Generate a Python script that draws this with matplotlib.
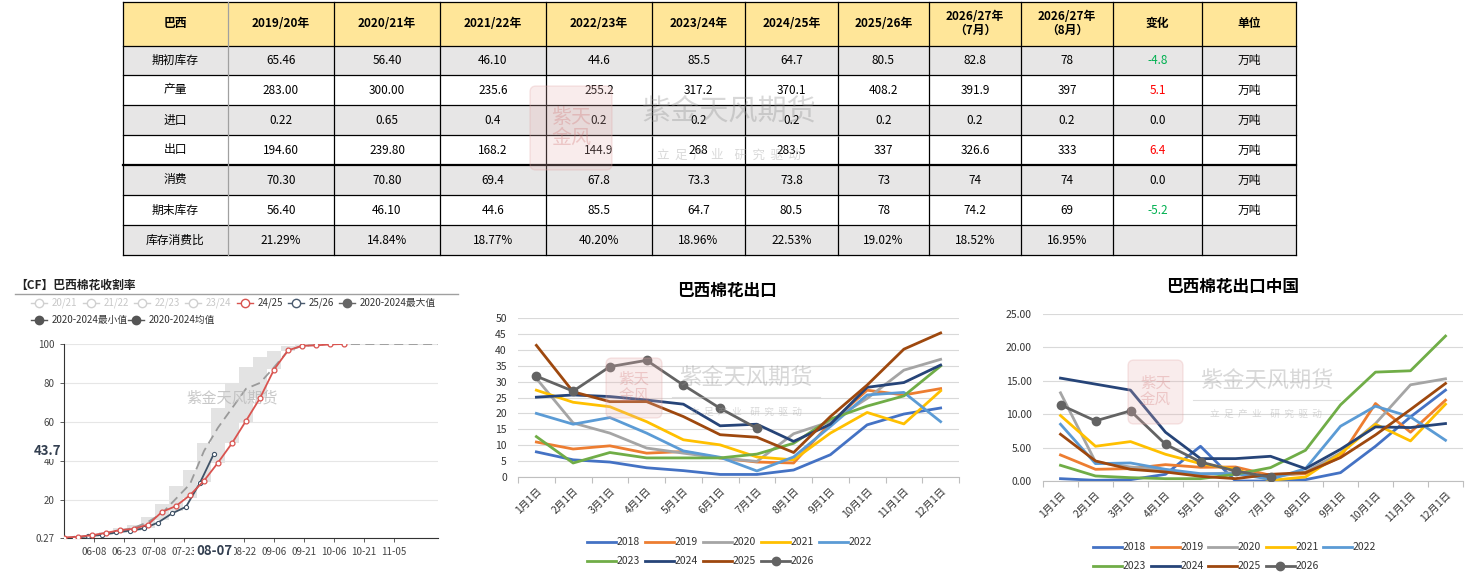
import matplotlib
matplotlib.use('Agg')
import matplotlib.pyplot as plt
from matplotlib.patches import Rectangle, FancyBboxPatch
from matplotlib.lines import Line2D

plt.rcParams['font.family'] = ['Noto Sans CJK SC', 'DejaVu Sans']

W, H = 1478, 583

# ---------------- table data ----------------
table_header = ["巴西", "2019/20年", "2020/21年", "2021/22年", "2022/23年", "2023/24年",
                "2024/25年", "2025/26年", "2026/27年\n（7月）", "2026/27年\n（8月）", "变化", "单位"]
row_names = ["期初库存", "产量", "进口", "出口", "消费", "期末库存", "库存消费比"]
row_values = [
    ["65.46", "56.40", "46.10", "44.6", "85.5", "64.7", "80.5", "82.8", "78"],
    ["283.00", "300.00", "235.6", "255.2", "317.2", "370.1", "408.2", "391.9", "397"],
    ["0.22", "0.65", "0.4", "0.2", "0.2", "0.2", "0.2", "0.2", "0.2"],
    ["194.60", "239.80", "168.2", "144.9", "268", "283.5", "337", "326.6", "333"],
    ["70.30", "70.80", "69.4", "67.8", "73.3", "73.8", "73", "74", "74"],
    ["56.40", "46.10", "44.6", "85.5", "64.7", "80.5", "78", "74.2", "69"],
    ["21.29%", "14.84%", "18.77%", "40.20%", "18.96%", "22.53%", "19.02%", "18.52%", "16.95%"],
]
row_change = ["-4.8", "5.1", "0.0", "6.4", "0.0", "-5.2", ""]
row_unit = ["万吨", "万吨", "万吨", "万吨", "万吨", "万吨", ""]

# ---------------- harvest (left chart) ----------------
harvest_tick_days = [15, 30, 45, 60, 90, 105, 120, 135, 150, 165]
harvest_tick_labels = ["06-08", "06-23", "07-08", "07-23", "08-22", "09-06", "09-21", "10-06", "10-21", "11-05"]
harvest_cur_day = 75
harvest_cur_label = "08-07"
days_2425 = [0, 7, 14, 21, 28, 35, 42, 49, 56, 63, 70, 77, 84, 91, 98, 105, 112, 119, 126, 133, 140]
rate_2425 = [0.5, 0.9, 1.7, 2.9, 4.3, 5.0, 7.2, 13.7, 16.7, 22.3, 29.7, 39.0, 49.0, 60.5, 72.2, 86.8,
             96.7, 99.1, 99.3, 99.8, 100.0]
days_2526 = [0, 5, 12, 19, 26, 33, 40, 47, 54, 61, 68, 75]
rate_2526 = [0.27, 0.5, 1.2, 1.9, 3.1, 4.1, 5.2, 8.2, 12.9, 16.3, 28.7, 43.7]
days_band = [0, 7, 14, 21, 28, 35, 42, 49, 56, 63, 70, 77, 84, 91, 98, 105, 112, 119, 126, 133,
             140, 147, 154, 161, 168, 175, 182, 189]
rate_max = [0.5, 1.0, 2.0, 3.5, 5.5, 7.0, 11.0, 18.0, 27.0, 35.0, 49.0, 67.0, 80.0, 88.0, 93.5, 96.5,
            99.0, 100, 100, 100, 100, 100, 100, 100, 100, 100, 100, 100]
rate_min = [0.2, 0.5, 1.0, 2.0, 3.0, 4.0, 5.5, 9.5, 14.0, 21.0, 29.0, 39.0, 49.0, 60.0, 72.0, 87.0,
            96.5, 98.5, 99.0, 100, 100, 100, 100, 100, 100, 100, 100, 100]
rate_mean = [0.3, 0.7, 1.5, 2.7, 4.0, 5.5, 8.5, 13.0, 20.5, 28.0, 45.0, 57.0, 67.0, 77.0, 80.0, 88.0,
             96.5, 99.0, 99.5, 100, 100, 100, 100, 100, 100, 100, 100, 100]

# ---------------- exports ----------------
months = ["1月1日", "2月1日", "3月1日", "4月1日", "5月1日", "6月1日", "7月1日", "8月1日",
          "9月1日", "10月1日", "11月1日", "12月1日"]
years = ["2018", "2019", "2020", "2021", "2022", "2023", "2024", "2025", "2026"]
year_colors = ["#4472C4", "#ED7D31", "#A5A5A5", "#FFC000", "#5B9BD5", "#70AD47", "#264478", "#9E480E", "#636363"]

export_total = {
    "2018": [7.9, 5.4, 4.7, 2.9, 2.0, 0.8, 0.8, 2.2, 7.0, 16.4, 19.8, 21.7],
    "2019": [11.0, 8.8, 9.8, 7.5, 8.0, 6.0, 4.7, 4.4, 17.0, 27.3, 25.8, 27.8],
    "2020": [31.0, 17.0, 13.8, 9.1, 7.5, 6.0, 4.9, 13.6, 17.4, 24.7, 33.6, 37.0],
    "2021": [27.3, 23.5, 22.1, 17.4, 11.7, 10.1, 6.3, 5.4, 13.8, 20.3, 16.7, 27.1],
    "2022": [20.0, 16.6, 18.7, 13.8, 8.2, 6.2, 1.9, 6.3, 15.9, 25.8, 26.6, 17.4],
    "2023": [12.7, 4.4, 7.7, 6.0, 6.0, 6.0, 7.2, 10.6, 18.2, 22.3, 25.5, 34.9],
    "2024": [25.1, 25.8, 25.3, 24.2, 22.9, 16.1, 16.6, 11.2, 16.6, 28.2, 29.7, 35.2],
    "2025": [41.4, 26.8, 23.7, 23.7, 19.0, 13.3, 12.5, 7.7, 19.0, 28.9, 40.2, 45.3],
    "2026": [31.7, 27.0, 34.7, 36.7, 28.9, 21.6, 15.3],
}
export_china = {
    "2018": [0.35, 0.1, 0.2, 1.0, 5.2, 0.0, 0.0, 0.2, 1.25, 5.2, 9.6, 13.6],
    "2019": [3.9, 1.75, 1.85, 2.45, 2.05, 2.1, 0.85, 1.1, 3.6, 11.6, 7.3, 12.1],
    "2020": [13.2, 2.85, 2.1, 1.6, 1.0, 1.25, 0.5, 1.35, 4.2, 8.6, 14.4, 15.3],
    "2021": [9.8, 5.2, 5.9, 4.0, 2.6, 1.75, 0.1, 0.6, 4.1, 8.5, 6.0, 11.5],
    "2022": [8.5, 2.6, 2.7, 1.75, 1.1, 1.1, 0.25, 1.85, 8.2, 11.2, 9.6, 6.1],
    "2023": [2.35, 0.75, 0.5, 0.35, 0.35, 1.0, 2.0, 4.6, 11.4, 16.3, 16.5, 21.7],
    "2024": [15.4, 14.5, 13.6, 7.3, 3.35, 3.35, 3.7, 1.85, 4.75, 8.1, 8.0, 8.6],
    "2025": [7.0, 3.0, 1.75, 1.35, 0.7, 0.35, 1.0, 1.25, 3.5, 6.9, 10.7, 14.6],
    "2026": [11.4, 9.0, 10.5, 5.5, 2.85, 1.5, 0.6],
}


def rect(x0, y0, x1, y1):
    return [x0 / W, 1 - y1 / H, (x1 - x0) / W, (y1 - y0) / H]


fig = plt.figure(figsize=(W / 100, H / 100), dpi=100)
fig.patch.set_facecolor('white')

ov = fig.add_axes([0, 0, 1, 1])
ov.set_xlim(0, W)
ov.set_ylim(H, 0)
ov.axis('off')

# ---------------- table ----------------
col_edges = [123, 228, 334, 440, 546, 652, 745, 838, 929, 1021, 1113, 1202, 1296]
row_edges = [1.5, 46, 75, 105, 135, 165, 195, 225, 255]
row_bg = ["#E7E6E6", "#FFFFFF", "#E7E6E6", "#FFFFFF", "#E7E6E6", "#FFFFFF", "#E7E6E6"]

ov.add_patch(Rectangle((col_edges[0], row_edges[0]), col_edges[-1] - col_edges[0],
                       row_edges[1] - row_edges[0], facecolor="#FFE699", edgecolor='none'))
for r in range(len(row_names)):
    ov.add_patch(Rectangle((col_edges[0], row_edges[r + 1]), col_edges[-1] - col_edges[0],
                           row_edges[r + 2] - row_edges[r + 1], facecolor=row_bg[r], edgecolor='none'))

for c, lab in enumerate(table_header):
    cx = (col_edges[c] + col_edges[c + 1]) / 2
    cy = (row_edges[0] + row_edges[1]) / 2
    ov.text(cx, cy, lab, ha='center', va='center', fontsize=8.5, fontweight='bold',
            color='black', linespacing=1.1)

for r, name in enumerate(row_names):
    cy = (row_edges[r + 1] + row_edges[r + 2]) / 2
    cells = [name] + row_values[r] + [row_change[r], row_unit[r]]
    for c, txt in enumerate(cells):
        cx = (col_edges[c] + col_edges[c + 1]) / 2
        color = 'black'
        if c == 10 and txt:
            v = float(txt)
            color = '#00B050' if v < 0 else ('#FF0000' if v > 0 else 'black')
        ov.text(cx, cy, txt, ha='center', va='center', fontsize=8.5, color=color)

# grid lines
for i, y in enumerate(row_edges):
    lw = 1.6 if i == 5 else 0.9
    ov.plot([col_edges[0], col_edges[-1]], [y, y], color='black', lw=lw)
for j, x in enumerate(col_edges):
    col = '#A0A0A0' if j == 1 else 'black'
    ov.plot([x, x], [row_edges[0], row_edges[-1]], color=col, lw=0.9)

# ---------------- left chart: harvest ----------------
ov.text(15, 285, "【CF】巴西棉花收割率", ha='left', va='center', fontsize=8.5, fontweight='bold', color='#222222')
ov.plot([15, 458], [294, 294], color='#A0A0A0', lw=1.0)

leg1 = [("20/21", 39, 303, '#D0D0D0', 'open'), ("21/22", 91, 303, '#D0D0D0', 'open'),
        ("22/23", 142, 303, '#D0D0D0', 'open'), ("23/24", 193, 303, '#D0D0D0', 'open'),
        ("24/25", 245, 303, '#D9534F', 'open'), ("25/26", 296, 303, '#4A5A6E', 'open'),
        ("2020-2024最大值", 347, 303, '#666666', 'fill'),
        ("2020-2024最小值", 39, 320, '#555555', 'fill'), ("2020-2024均值", 136, 320, '#555555', 'fill')]
for lab, x, y, colr, kind in leg1:
    ov.plot([x - 8, x + 8], [y, y], color=colr, lw=1.0)
    if kind == 'open':
        ov.plot([x], [y], marker='o', ms=6, mfc='white', mec=colr, mew=1.0)
    else:
        ov.plot([x], [y], marker='o', ms=6, mfc=colr, mec=colr)
    tcol = '#C8C8C8' if colr == '#D0D0D0' else '#333333'
    ov.text(x + 13, y, lab, ha='left', va='center', fontsize=7, color=tcol)

axh = fig.add_axes(rect(64, 344, 438, 538))
axh.set_xlim(0, 187)
axh.set_ylim(0.27, 100)
axh.fill_between(days_band, rate_min, rate_max, step='mid', color='#E3E3E3', lw=0, zorder=1)
axh.plot(days_band, rate_mean, color='#9A9A9A', lw=1.3, ls=(0, (5, 3)), zorder=2)
axh.plot(days_2425, rate_2425, color='#D9534F', lw=1.3, marker='o', ms=3.5, mfc='white',
         mec='#D9534F', mew=0.9, zorder=4)
axh.plot(days_2526, rate_2526, color='#3F5266', lw=1.3, marker='o', ms=3, mfc='white',
         mec='#3F5266', mew=0.8, zorder=3)
axh.set_yticks([0.27, 20, 40, 60, 80, 100])
axh.set_yticklabels(["0.27", "20", "40", "60", "80", "100"])
axh.set_xticks(harvest_tick_days)
axh.set_xticklabels(harvest_tick_labels)
axh.tick_params(axis='both', labelsize=7, colors='#444444', length=3, width=0.6)
axh.grid(axis='y', color='#E6E6E6', lw=0.8)
axh.set_axisbelow(True)
for s in ['top', 'right']:
    axh.spines[s].set_visible(False)
axh.spines['left'].set_color('#333333')
axh.spines['bottom'].set_color('#333333')
axh.text(harvest_cur_day, -0.03, harvest_cur_label, transform=axh.get_xaxis_transform(),
         ha='center', va='top', fontsize=9.5, fontweight='bold', color='#333F50',
         bbox=dict(facecolor='white', edgecolor='none', pad=1.5))
axh.text(-0.008, rate_2526[-1] + 1.5, f"{rate_2526[-1]:.1f}", transform=axh.get_yaxis_transform(),
         ha='right', va='center', fontsize=9.5, fontweight='bold', color='#333F50',
         bbox=dict(facecolor='white', edgecolor='none', pad=1.0))
axh.text(0.45, 0.72, "紫金天风期货", transform=axh.transAxes, ha='center', va='center',
         fontsize=11, color='#BBBBBB', alpha=0.8)


# ---------------- export charts ----------------
def export_chart(rect_px, data, ymax, ystep, yfmt, title, title_xy, leg_x0, leg_y, leg_dx):
    ax = fig.add_axes(rect(*rect_px))
    xs = list(range(12))
    for yr, colr in zip(years, year_colors):
        vals = data[yr]
        if yr == "2026":
            ax.plot(xs[:len(vals)], vals, color=colr, lw=2.0, marker='o', ms=6, zorder=5)
        else:
            ax.plot(xs[:len(vals)], vals, color=colr, lw=2.0, zorder=3)
    ax.set_xlim(-0.5, 11.5)
    ax.set_ylim(0, ymax)
    yt = [i * ystep for i in range(int(round(ymax / ystep)) + 1)]
    ax.set_yticks(yt)
    ax.set_yticklabels([yfmt.format(v) for v in yt])
    ax.set_xticks(xs)
    ax.set_xticklabels(months, rotation=45, ha='right', va='top', rotation_mode='anchor')
    ax.set_xticks([i - 0.5 for i in range(13)], minor=True)
    ax.tick_params(axis='x', which='major', length=0, labelsize=7.5, colors='#333333', pad=6)
    ax.tick_params(axis='x', which='minor', length=4, color='#BFBFBF', width=0.8)
    ax.tick_params(axis='y', length=0, labelsize=7.5, colors='#333333', pad=8)
    ax.grid(axis='y', color='#D9D9D9', lw=0.8)
    ax.set_axisbelow(True)
    for s in ['top', 'right', 'left']:
        ax.spines[s].set_visible(False)
    ax.spines['bottom'].set_color('#BFBFBF')
    ov.text(title_xy[0], title_xy[1], title, ha='center', va='center', fontsize=12,
            fontweight='bold', color='black')
    for i, (yr, colr) in enumerate(zip(years, year_colors)):
        row = i // 5
        col = i % 5
        x = leg_x0 + col * leg_dx
        y = leg_y + row * 19
        ov.plot([x, x + 29], [y, y], color=colr, lw=2.0)
        if yr == "2026":
            ov.plot([x + 14.5], [y], marker='o', ms=6, color=colr)
        ov.text(x + 30, y, yr, ha='left', va='center', fontsize=7.5, color='#333333')
    return ax


export_chart((518, 318, 959, 477), export_total, 50, 5, "{:.0f}", "巴西棉花出口", (727, 291),
             587, 542, 58)
export_chart((1043, 314, 1463, 481), export_china, 25, 5, "{:.2f}", "巴西棉花出口中国", (1233, 287),
             1093, 547, 57.5)

# ---------------- watermarks ----------------
wm = fig.add_axes([0, 0, 1, 1], zorder=20)
wm.set_xlim(0, W)
wm.set_ylim(H, 0)
wm.axis('off')
wm.patch.set_alpha(0)


def logo(x0, y0, x1, y1, big, small, tx0, tx1, ty, sy):
    wm.add_patch(FancyBboxPatch((x0, y0), x1 - x0, y1 - y0, boxstyle="round,pad=0,rounding_size=6",
                                facecolor='#E8B4B4', edgecolor='#E0A0A0', alpha=0.25, lw=1))
    wm.text((x0 + x1) / 2, (y0 + y1) / 2, "紫天\n金风", ha='center', va='center', fontsize=small * 1.6,
            color='#D07070', alpha=0.3, linespacing=1.0)
    wm.text((tx0 + tx1) / 2, ty, "紫金天风期货", ha='center', va='center', fontsize=big,
            color='#909090', alpha=0.35)
    wm.plot([tx0, tx1], [(ty + sy) / 2 + 2, (ty + sy) / 2 + 2], color='#C0C0C0', lw=0.8, alpha=0.5)
    wm.text((tx0 + tx1) / 2, sy, "立  足  产  业    研  究  驱  动", ha='center', va='center',
            fontsize=small, color='#A0A0A0', alpha=0.4)


logo(530, 86, 612, 170, 21, 9, 620, 838, 112, 155)
logo(606, 358, 662, 418, 16, 7, 672, 820, 378, 412)
logo(1128, 360, 1183, 424, 16, 7, 1193, 1340, 381, 414)

fig.savefig("out.png", dpi=100, facecolor='white')
